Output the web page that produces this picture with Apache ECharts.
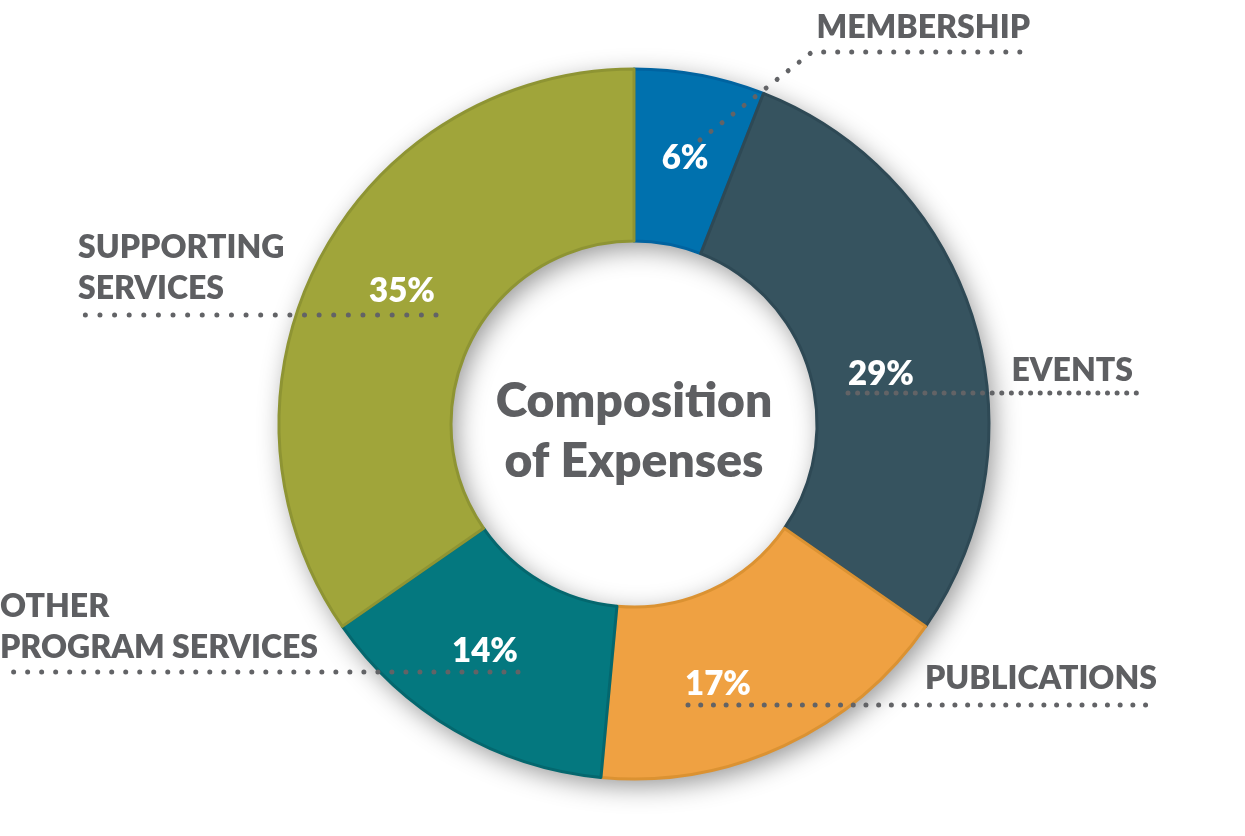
<!DOCTYPE html>
<html>
<head>
<meta charset="utf-8">
<script src="https://cdn.jsdelivr.net/npm/echarts@6/dist/echarts.min.js"></script>
<style>
html,body{margin:0;padding:0;background:#fff;}
#chart{width:1245px;height:836px;}
</style>
</head>
<body>
<div id="chart"></div>
<script>
// ---- data ----
const categories = ['MEMBERSHIP', 'EVENTS', 'PUBLICATIONS', 'OTHER\nPROGRAM SERVICES', 'SUPPORTING\nSERVICES'];
const values = [6, 29, 17, 14, 35];
const centerTitle = 'Composition\nof Expenses';

// ---- styles ----
const colors = ['#0071AE', '#36535F', '#EFA142', '#04787F', '#A0A53A'];
const borders = ['#0063A0', '#2E4955', '#DB9232', '#04676E', '#8E9433'];
const textColor = '#5E5F62';
const dotColor = '#626366';
const FONT = 'Lato, "Open Sans", sans-serif';
const WEIGHT = 800;
const CX = 634, CY = 424, R0 = 183, R1 = 355;

// label layout (pixel placement of annotations)
const pctPos = [[685, 158], [881, 374], [718, 684], [485, 651], [402, 291]];
const namePos = [
  {x: 1030, y: 28, align: 'right'},
  {x: 1133, y: 371, align: 'right'},
  {x: 1157, y: 679, align: 'right'},
  {x: 0, y: 627, align: 'left'},
  {x: 78, y: 268, align: 'left'}
];
const linePts = [
  [[700, 140], [812, 52], [1028, 52]],
  [[848, 393], [1000, 393], [1138, 393]],
  [[688, 705], [900, 705], [1158, 705]],
  [[518, 672], [300, 672], [0, 672]],
  [[436, 315], [250, 315], [78, 315]]
];
const dotGap = [14, 9.6, 12.7, 14, 14.6];

const chart = echarts.init(document.getElementById('chart'), null, {renderer: 'canvas'});

const mainData = categories.map((c, i) => ({
  name: c, value: values[i],
  itemStyle: {color: colors[i], borderColor: borders[i], borderWidth: 3}
}));
const overlayData = categories.map((c, i) => ({
  name: c, value: values[i],
  labelLine: {lineStyle: {type: [0.01, dotGap[i]], cap: 'round', width: 5, color: dotColor}}
}));

chart.setOption({
  backgroundColor: '#fff',
  animation: false,
  graphic: [{
    type: 'text', x: CX, y: CY + 8, z: 10,
    style: {
      text: centerTitle, textAlign: 'center', textVerticalAlign: 'middle',
      fill: textColor, fontFamily: FONT, fontWeight: WEIGHT, fontSize: 48, lineHeight: 60
    }
  }],
  series: [
    {
      type: 'pie', z: 1, silent: true, center: [CX, CY], radius: [R0, R1],
      label: {show: false}, labelLine: {show: false},
      itemStyle: {color: '#ffffff', shadowBlur: 26, shadowColor: 'rgba(0,0,0,0.42)', shadowOffsetX: 5, shadowOffsetY: 7},
      data: [{value: 1, name: ''}]
    },
    {
      type: 'pie', z: 2, silent: true, center: [CX, CY], radius: [R0, R1],
      startAngle: 90, clockwise: true, avoidLabelOverlap: false,
      data: mainData,
      label: {
        show: true, position: 'inside', formatter: '{c}%',
        color: '#fff', fontFamily: FONT, fontWeight: WEIGHT, fontSize: 33
      },
      labelLine: {show: false},
      labelLayout: function (p) {
        const q = pctPos[p.dataIndex];
        return {x: q[0], y: q[1], align: 'center', verticalAlign: 'middle'};
      }
    },
    {
      type: 'pie', z: 3, silent: true, center: [CX, CY], radius: [R0, R1],
      startAngle: 90, clockwise: true, avoidLabelOverlap: false,
      itemStyle: {color: 'rgba(0,0,0,0)', borderWidth: 0},
      data: overlayData,
      label: {
        show: true, position: 'outside', formatter: '{b}',
        color: textColor, fontFamily: FONT, fontWeight: WEIGHT, fontSize: 32, lineHeight: 41
      },
      labelLine: {show: true, length: 20, length2: 20, smooth: false},
      labelLayout: function (p) {
        const n = namePos[p.dataIndex];
        return {x: n.x, y: n.y, align: n.align, verticalAlign: 'middle',
          labelLinePoints: linePts[p.dataIndex].map(pt => pt.slice())};
      }
    }
  ]
});
</script>
</body>
</html>
